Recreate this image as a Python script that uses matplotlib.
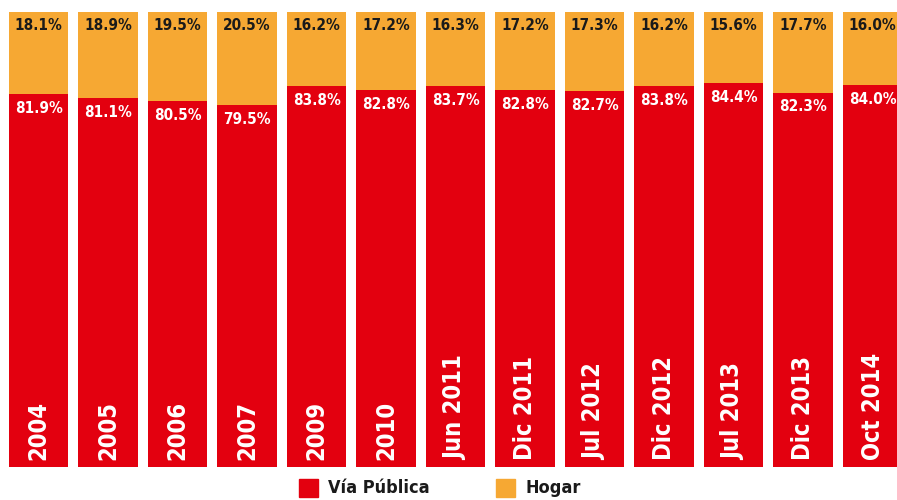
import matplotlib
matplotlib.use("Agg")
import matplotlib.pyplot as plt
from matplotlib.patches import Rectangle

categories = ["2004", "2005", "2006", "2007", "2009", "2010", "Jun 2011",
              "Dic 2011", "Jul 2012", "Dic 2012", "Jul 2013", "Dic 2013", "Oct 2014"]
via_publica = [81.9, 81.1, 80.5, 79.5, 83.8, 82.8, 83.7, 82.8, 82.7, 83.8, 84.4, 82.3, 84.0]
hogar = [18.1, 18.9, 19.5, 20.5, 16.2, 17.2, 16.3, 17.2, 17.3, 16.2, 15.6, 17.7, 16.0]

RED = "#E3000F"
ORANGE = "#F6A833"
FONT = ["DejaVu Sans"]
ST = "condensed"

fig = plt.figure(figsize=(8.97, 5.0), dpi=100)
ax = fig.add_axes([0, 33 / 500, 1, 455 / 500])

x = list(range(len(categories)))
w = 0.85
ax.bar(x, via_publica, width=w, color=RED, linewidth=0)
ax.bar(x, hogar, width=w, bottom=via_publica, color=ORANGE, linewidth=0)

for i, (v, h, c) in enumerate(zip(via_publica, hogar, categories)):
    ax.annotate(f"{h:.1f}%", (i, 100), xytext=(0, -4), textcoords="offset points",
                ha="center", va="top", fontsize=11, fontweight="bold",
                color="#1a1a1a", family=FONT, fontstretch=ST)
    ax.annotate(f"{v:.1f}%", (i, v), xytext=(0, -5), textcoords="offset points",
                ha="center", va="top", fontsize=11, fontweight="bold",
                color="white", family=FONT, fontstretch=ST)
    ax.annotate(c, (i, 0), xytext=(0, 5), textcoords="offset points",
                ha="center", va="bottom", rotation=90, fontsize=17,
                fontweight="bold", color="white", family=FONT, fontstretch=ST)

ax.set_xlim(-0.554, -0.554 + 897 / 69.5)
ax.set_ylim(0, 100)
ax.axis("off")

# legend
fig.patches.append(Rectangle((299 / 897, 3 / 500), 19 / 897, 18 / 500,
                             transform=fig.transFigure, color=RED, zorder=5))
fig.text(328 / 897, 12 / 500, "Vía Pública", ha="left", va="center",
         fontsize=13, fontweight="bold", color="#1a1a1a", family=FONT, fontstretch=ST)
fig.patches.append(Rectangle((496 / 897, 3 / 500), 19 / 897, 18 / 500,
                             transform=fig.transFigure, color=ORANGE, zorder=5))
fig.text(525 / 897, 12 / 500, "Hogar", ha="left", va="center",
         fontsize=13, fontweight="bold", color="#1a1a1a", family=FONT, fontstretch=ST)

fig.savefig("out.png", dpi=100)
